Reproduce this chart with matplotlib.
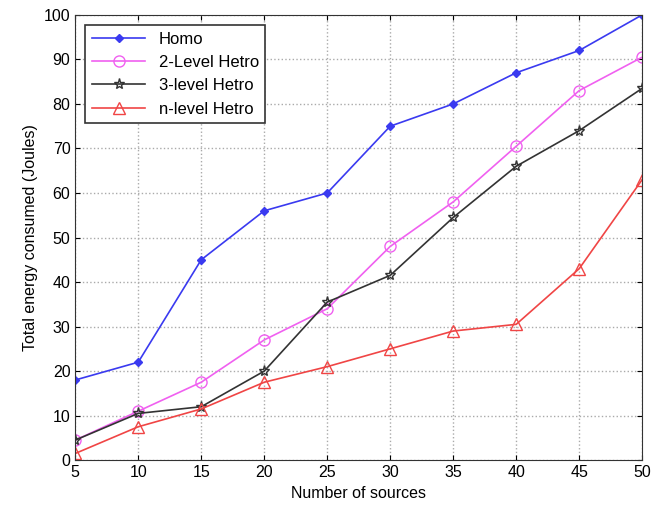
import matplotlib
matplotlib.use('Agg')
import matplotlib.pyplot as plt

plt.rcParams['font.family'] = ['Liberation Sans', 'DejaVu Sans']

sources = [5, 10, 15, 20, 25, 30, 35, 40, 45, 50]
homo = [18, 22, 45, 56, 60, 75, 80, 87, 92, 100]
level2 = [4.5, 11, 17.5, 27, 34, 48, 58, 70.5, 83, 90.5]
level3 = [4.5, 10.5, 12, 20, 35.5, 41.5, 54.5, 66, 74, 83.5]
leveln = [1.5, 7.5, 11.5, 17.5, 21, 25, 29, 30.5, 43, 63]

fig = plt.figure(figsize=(6.6, 5.13), dpi=100)
ax = fig.add_axes([0.114, 0.103, 0.859, 0.868])

ax.plot(sources, homo, '-D', color='#3a3af0', ms=4, lw=1.2, label='Homo')
ax.plot(sources, level2, '-o', color='#f060f0', ms=8, lw=1.2, mfc='none', label='2-Level Hetro')
ax.plot(sources, level3, '-*', color='#333333', ms=8, lw=1.2, mfc='none', label='3-level Hetro')
ax.plot(sources, leveln, '-^', color='#f04545', ms=8, lw=1.2, mfc='none', label='n-level Hetro')

ax.set_xlim(5, 50)
ax.set_ylim(0, 100)
ax.set_xticks(sources)
ax.set_yticks(range(0, 101, 10))
ax.grid(True, linestyle=':', color='#aaaaaa', lw=1)
ax.tick_params(direction='in', labelsize=11.5, top=True, right=True)
for s in ax.spines.values():
    s.set_color('#333333')

ax.set_xlabel('Number of sources', fontsize=11.5)
ax.set_ylabel('Total energy consumed (Joules)', fontsize=11.5)

leg = ax.legend(loc='upper left', fontsize=12, fancybox=False, framealpha=1,
                edgecolor='#333333', borderaxespad=0.6, handlelength=3.2)
leg.get_frame().set_linewidth(1.2)

fig.savefig('out.png', dpi=100)
